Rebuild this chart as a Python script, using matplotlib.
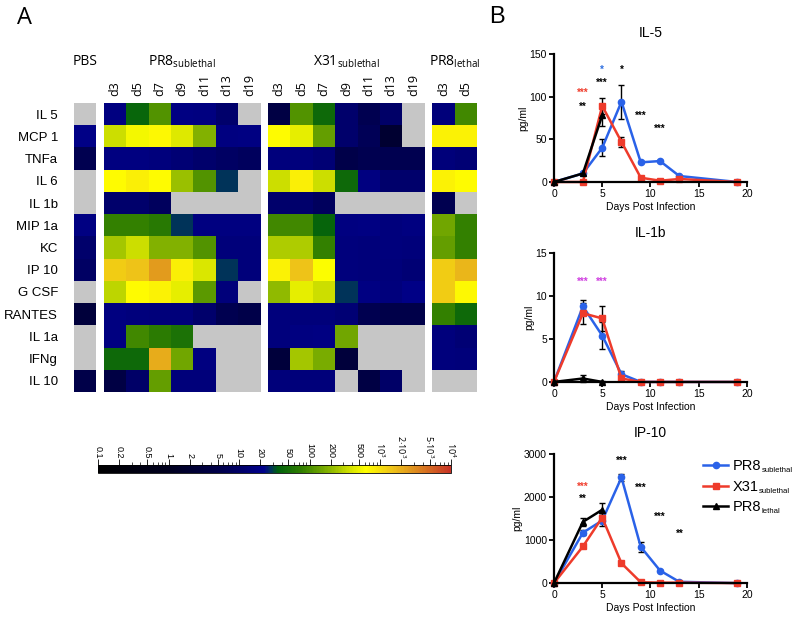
import numpy as np
import matplotlib
matplotlib.use("Agg")
import matplotlib.pyplot as plt
from matplotlib.colors import LinearSegmentedColormap, LogNorm
from matplotlib.cm import ScalarMappable
from matplotlib.lines import Line2D

plt.rcParams['font.family'] = ['Liberation Sans', 'DejaVu Sans']
plt.rcParams['mathtext.fontset'] = 'custom'
plt.rcParams['mathtext.rm'] = 'Open Sans'
plt.rcParams['mathtext.sf'] = 'Liberation Sans'

nan = np.nan

# ---- panel A data (pg/ml) ----
cytokines = ['IL 5', 'MCP 1', 'TNFa', 'IL 6', 'IL 1b', 'MIP 1a', 'KC', 'IP 10',
             'G CSF', 'RANTES', 'IL 1a', 'IFNg', 'IL 10']
days_sub = ['d3', 'd5', 'd7', 'd9', 'd11', 'd13', 'd19']
days_lethal = ['d3', 'd5']

pbs = [nan, 20, 6, nan, nan, 18, 11, 9, nan, 3, nan, nan, 5]

pr8_sub = [
    [17, 40, 110, 18, 17, 11, nan],
    [350, 550, 700, 420, 180, 17, 18],
    [17, 17, 16, 13, 11, 9, 8],
    [650, 800, 650, 220, 110, 28, nan],
    [11, 11, 8, nan, nan, nan, nan],
    [80, 80, 65, 28, 17, 17, 17],
    [250, 350, 180, 180, 110, 15, 15],
    [1300, 1500, 2500, 800, 400, 28, 15],
    [300, 650, 750, 450, 120, 15, nan],
    [17, 16, 15, 15, 11, 6, 5],
    [17, 90, 70, 55, nan, nan, nan],
    [45, 45, 2000, 150, 17, nan, nan],
    [4, 10, 130, 15, 15, nan, nan],
]

x31_sub = [
    [4, 110, 45, 11, 6, 10, nan],
    [650, 450, 130, 11, 7, 2, nan],
    [16, 16, 13, 5, 6, 6, 6],
    [350, 800, 350, 45, 17, 11, 11],
    [11, 11, 8, nan, nan, nan, nan],
    [90, 90, 38, 17, 18, 16, 17],
    [270, 270, 80, 16, 15, 16, 15],
    [750, 1500, 600, 16, 15, 15, 13],
    [200, 450, 350, 28, 18, 16, 20],
    [16, 15, 15, 13, 6, 5, 5],
    [16, 17, 18, 150, nan, nan, nan],
    [3, 250, 160, 3, nan, nan, nan],
    [15, 15, 15, nan, 4, 10, nan],
]

pr8_lethal = [
    [15, 90], [750, 750], [15, 13], [750, 650], [6, nan], [150, 80], [130, 80],
    [1300, 1800], [1300, 700], [80, 45], [16, 13], [16, 15], [nan, nan],
]

cbar_ticks = [0.1, 0.2, 0.5, 1, 2, 5, 10, 20, 50, 100, 200, 500, 1000, 2000, 5000, 10000]
cbar_labels = ['0.1', '0.2', '0.5', '1', '2', '5', '10', '20', '50', '100', '200', '500',
               r'$10^3$', r'$2{\cdot}10^3$', r'$5{\cdot}10^3$', r'$10^4$']

# ---- panel B data ----
days = [0, 3, 5, 7, 9, 11, 13, 19]
days_l = [0, 3, 5]

il5_sub = [0, 10, 40, 94, 23, 24.5, 7, 0]
il5_sub_err = [0, 1.5, 10, 20, 1, 1, 1, 0]
il5_x31 = [0, 0, 89, 47, 5, 1.5, 3.5, 0]
il5_x31_err = [0, 1, 9, 6, 1, 0.5, 1, 0]
il5_leth = [0, 10, 78]
il5_leth_err = [0, 1.5, 13]

il1b_sub = [0, 8.8, 5.4, 0.9, 0, 0, 0, 0]
il1b_sub_err = [0, 0.7, 1.6, 0.4, 0, 0, 0, 0]
il1b_x31 = [0, 8.0, 7.4, 0.4, 0, 0, 0, 0]
il1b_x31_err = [0, 1.2, 1.5, 0.2, 0, 0, 0, 0]
il1b_leth = [0, 0.4, 0.0]
il1b_leth_err = [0, 0.4, 0.1]

ip10_sub = [0, 1170, 1450, 2450, 840, 290, 30, 0]
ip10_sub_err = [0, 60, 120, 80, 110, 20, 10, 0]
ip10_x31 = [0, 850, 1520, 460, 20, 10, 10, 0]
ip10_x31_err = [0, 40, 100, 30, 5, 5, 5, 0]
ip10_leth = [0, 1420, 1700]
ip10_leth_err = [0, 100, 150]

# significance marks: (day, height, text, colour)
il5_stars = [(3, 104, '***', '#f04030'), (3, 88, '**', 'black'), (5, 131, '*', '#3070e0'),
             (5, 116, '***', 'black'), (7, 131, '*', 'black'), (9, 78, '***', 'black'),
             (11, 62, '***', 'black')]
il1b_stars = [(3, 11.7, '***', '#d040e0'), (5, 11.7, '***', '#d040e0')]
ip10_stars = [(3, 2230, '***', '#f04030'), (3, 1950, '**', 'black'), (7, 2840, '***', 'black'),
              (9, 2200, '***', 'black'), (11, 1540, '***', 'black'), (13, 1140, '**', 'black')]

legend_main = ['PR8', 'X31', 'PR8']
legend_sub = ['sublethal', 'sublethal', 'lethal']

BLUE = '#2a62e8'
RED = '#ee3b2b'
GRAY = '#c6c6c6'

cmap = LinearSegmentedColormap.from_list('heat', [
    (0.0, (0, 0, 0)), (0.2, (0, 0, 0.12)), (0.35, (0, 0, 0.3)), (0.47, (0, 0, 0.55)),
    (0.49, (0, 0.2, 0.35)), (0.51, (0, 0.38, 0.05)), (0.58, (0.2, 0.5, 0)),
    (0.66, (0.55, 0.72, 0)), (0.72, (0.85, 0.9, 0)), (0.76, (1, 1, 0)),
    (0.84, (0.93, 0.75, 0.1)), (0.9, (0.87, 0.55, 0.12)), (1.0, (0.78, 0.2, 0.15))])
cmap.set_bad(GRAY)
norm = LogNorm(vmin=0.1, vmax=1e4)

fig = plt.figure(figsize=(8, 6.19), dpi=100)

# ---------------- heatmap ----------------
ax = fig.add_axes([0.0925, 0.3667, 0.5037, 0.467])
gap = 1 / 3
groups = [np.array(pbs, dtype=float)[:, None], np.array(pr8_sub, dtype=float),
          np.array(x31_sub, dtype=float), np.array(pr8_lethal, dtype=float)]
col_names = [[], days_sub, days_sub, days_lethal]
headers = ['PBS', r'PR8$_{\mathrm{sublethal}}$', r'X31$_{\mathrm{sublethal}}$',
           r'PR8$_{\mathrm{lethal}}$']
ny = len(cytokines)
x0 = 0
for g, names, head in zip(groups, col_names, headers):
    nc = g.shape[1]
    xe = x0 + np.arange(nc + 1)
    ax.pcolormesh(xe, np.arange(ny + 1), np.ma.masked_invalid(g), cmap=cmap, norm=norm)
    for j, n in enumerate(names):
        ax.text(x0 + j + 0.5, -0.3, n, rotation=90, ha='center', va='bottom',
                fontsize=9, family='Open Sans', clip_on=False)
    ax.text(x0 + nc / 2, -1.85, head, ha='center', va='center',
            fontsize=10, family='Open Sans', clip_on=False)
    x0 += nc + gap
ax.set_xlim(0, x0 - gap)
ax.set_ylim(ny, 0)
ax.set_xticks([])
ax.set_yticks(np.arange(ny) + 0.5)
ax.set_yticklabels(cytokines, fontsize=9.5)
ax.tick_params(axis='y', length=0, pad=11.5)
for s in ax.spines.values():
    s.set_visible(False)

# colour bar
cax = fig.add_axes([0.1225, 0.2359, 0.441, 0.0129])
cb = fig.colorbar(ScalarMappable(norm=norm, cmap=cmap), cax=cax, orientation='horizontal')
cax.xaxis.set_ticks_position('top')
cb.set_ticks(cbar_ticks)
cb.set_ticklabels(cbar_labels)
cax.tick_params(axis='x', which='major', length=4, width=0.6, labelsize=6.5, pad=1)
cax.tick_params(axis='x', which='minor', length=2, width=0.5)
for lbl in cax.get_xticklabels():
    lbl.set_rotation(-90)
    lbl.set_va('bottom')
    lbl.set_ha('center')
cb.outline.set_linewidth(0.6)

fig.text(0.021, 0.99, 'A', fontsize=17, family='Open Sans', va='top')
fig.text(0.612, 0.99, 'B', fontsize=17, va='top')


# ---------------- line panels ----------------
def line_panel(rect, title, ylim, yticks, sub, sub_err, x31, x31_err, leth, leth_err, stars):
    a = fig.add_axes(rect)
    kw = dict(lw=1.8, markersize=4.5, capsize=2.5, ecolor='black', elinewidth=1,
              capthick=1, clip_on=False)
    a.errorbar(days, sub, yerr=sub_err, color=BLUE, marker='o', **kw)
    a.errorbar(days, x31, yerr=x31_err, color=RED, marker='s', **kw)
    a.errorbar(days_l, leth, yerr=leth_err, color='black', marker='^', **kw)
    for d, h, t, c in stars:
        a.text(d, h, t, color=c, ha='center', va='center', fontsize=7, fontweight='bold')
    a.set_xlim(0, 20)
    a.set_ylim(*ylim)
    a.set_xticks([0, 5, 10, 15, 20])
    a.set_yticks(yticks)
    a.spines['top'].set_visible(False)
    a.spines['right'].set_visible(False)
    a.spines['left'].set_linewidth(1.6)
    a.spines['bottom'].set_linewidth(1.6)
    a.tick_params(width=1.3, length=3.5, labelsize=7.5, pad=1.5)
    a.set_xlabel('Days Post Infection', fontsize=7.5, labelpad=2)
    a.set_ylabel('pg/ml', fontsize=7.5, labelpad=1)
    a.set_title(title, fontsize=10, pad=12)
    return a


line_panel([0.6925, 0.706, 0.241, 0.207], 'IL-5', (0, 150), [0, 50, 100, 150],
           il5_sub, il5_sub_err, il5_x31, il5_x31_err, il5_leth, il5_leth_err, il5_stars)
line_panel([0.6925, 0.383, 0.241, 0.208], 'IL-1b', (0, 15), [0, 5, 10, 15],
           il1b_sub, il1b_sub_err, il1b_x31, il1b_x31_err, il1b_leth, il1b_leth_err, il1b_stars)
line_panel([0.6925, 0.058, 0.241, 0.209], 'IP-10', (0, 3000), [0, 1000, 2000, 3000],
           ip10_sub, ip10_sub_err, ip10_x31, ip10_x31_err, ip10_leth, ip10_leth_err, ip10_stars)

handles = [Line2D([], [], color=BLUE, marker='o', lw=1.8, markersize=4.5),
           Line2D([], [], color=RED, marker='s', lw=1.8, markersize=4.5),
           Line2D([], [], color='black', marker='^', lw=1.8, markersize=4.5)]
leg = fig.legend(handles, legend_main, loc='upper left', bbox_to_anchor=(0.879, 0.258),
                 frameon=False, fontsize=10.5, handlelength=1.7, handletextpad=0.35,
                 labelspacing=0.45, borderaxespad=0, borderpad=0)

# small subscripts after the legend texts
fig.canvas.draw()
rend = fig.canvas.get_renderer()
W, H = fig.bbox.width, fig.bbox.height
for t, s in zip(leg.get_texts(), legend_sub):
    bb = t.get_window_extent(rend)
    fig.text(bb.x1 / W, (bb.y0 - 1) / H, s, fontsize=5.6, va='bottom', ha='left')

fig.savefig('out.png', dpi=100)
plt.close(fig)
